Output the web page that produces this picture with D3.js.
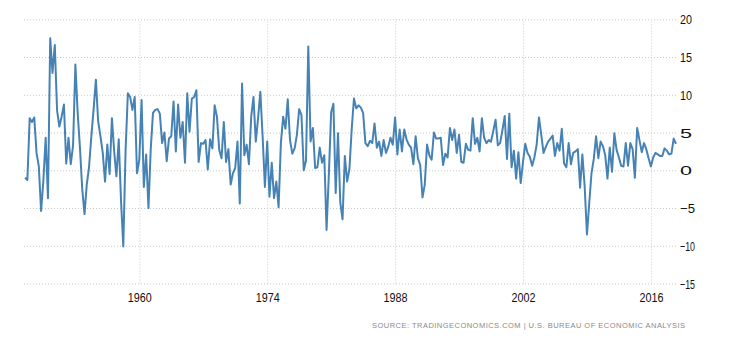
<!DOCTYPE html>
<html>
<head>
<meta charset="utf-8">
<script src="https://cdn.jsdelivr.net/npm/d3@7"></script>
<style>
  html, body { margin: 0; padding: 0; background: #fff; }
  svg { display: block; }
  text { font-family: "Liberation Sans", Arial, sans-serif; }
</style>
</head>
<body>
<svg id="chart" width="730" height="340"></svg>
<script>
// US real GDP growth, quarter on quarter, seasonally adjusted annual rate (%)
const firstYear = 1947;
const firstQuarter = 2;
const growth1940s = [
  -1.0, -1.3, 6.9,              // 1947 Q2-Q4
  6.4, 7.0, 2.3, 0.5,           // 1948
  -5.4, -1.4, 4.3, -3.7         // 1949
];
const growth1950s = [
  17.5, 12.9, 16.6, 7.9,        // 1950
  5.8, 7.1, 8.7, 0.9,           // 1951
  4.3, 0.8, 3.3, 14.0,          // 1952
  7.7, 3.1, -2.4, -5.8,         // 1953
  -1.9, 0.4, 4.5, 8.1,          // 1954
  12.0, 6.5, 4.5, 2.3,          // 1955
  -1.5, 3.4, -0.5, 6.9,         // 1956
  2.5, -0.8, 4.1, -4.1,         // 1957
  -10.1, 2.6, 10.2, 9.7,        // 1958
  8.0, 9.7, -0.4, 1.4           // 1959
];
const growth1960s = [
  9.3, -2.2, 2.1, -5.0,         // 1960
  2.7, 7.6, 8.0, 8.1,           // 1961
  7.5, 3.6, 5.0, 1.2,           // 1962
  4.2, 4.5, 9.1, 2.5,           // 1963
  8.7, 4.3, 6.4, 1.0,           // 1964
  10.2, 5.1, 9.5, 9.7,          // 1965
  10.6, 1.1, 3.6, 3.5,          // 1966
  4.0, 0.1, 4.1, 2.9,           // 1967
  8.6, 7.1, 2.7, 1.6,           // 1968
  6.4, 1.1, 2.8, -1.9           // 1969
];
const growth1970s = [
  -0.4, 0.3, 3.8, -4.4,         // 1970
  11.5, 2.0, 3.4, 0.8,          // 1971
  7.1, 9.7, 3.8, 6.9,           // 1972
  10.4, 4.5, -2.2, 3.8,         // 1973
  -3.5, 1.0, -3.7, -1.5,        // 1974
  -4.9, 3.6, 7.1, 5.5,          // 1975
  9.4, 4.0, 2.2, 2.9,           // 1976
  4.7, 8.1, 7.3, 0.0,           // 1977
  1.3, 16.4, 3.8, 5.6,          // 1978
  0.3, 0.4, 3.0, 1.0            // 1979
];
const growth1980s = [
  2.0, -7.9, -0.5, 7.7,         // 1980
  8.8, -3.0, 4.9, -4.3,         // 1981
  -6.5, 1.9, -1.5, 0.2,         // 1982
  5.4, 9.5, 8.2, 8.6,           // 1983
  8.3, 7.6, 3.6, 3.2,           // 1984
  3.9, 3.6, 6.2, 3.0,           // 1985
  3.8, 1.9, 4.0, 2.3,           // 1986
  3.1, 4.3, 3.4, 7.0,           // 1987
  2.1, 5.4, 2.5, 5.4,           // 1988
  4.1, 3.4, 3.0, 0.8            // 1989
];
const growth1990s = [
  4.5, 1.6, 0.7, -3.6,          // 1990
  -1.9, 3.4, 2.0, 1.4,          // 1991
  5.0, 4.2, 4.2, 4.3,           // 1992
  0.7, 2.2, 1.7, 5.6,           // 1993
  4.0, 5.4, 2.3, 4.7,           // 1994
  1.1, 1.0, 3.5, 2.7,           // 1995
  2.6, 6.9, 3.5, 4.3,           // 1996
  2.5, 6.9, 4.3, 3.6,           // 1997
  4.0, 3.8, 5.2, 6.7,           // 1998
  3.3, 3.6, 5.3, 7.2            // 1999
];
const growth2000s = [
  1.5, 7.5, 0.4, 2.6,           // 2000
  -1.1, 2.4, -1.7, 1.1,         // 2001
  3.5, 2.3, 1.8, 0.6,           // 2002
  1.7, 3.4, 7.0, 4.7,           // 2003
  2.3, 3.1, 3.8, 4.2,           // 2004
  4.6, 1.9, 3.6, 2.6,           // 2005
  5.5, 0.9, 0.4, 3.6,           // 2006
  0.8, 2.3, 2.5, 2.8,           // 2007
  -2.3, 2.1, -2.1, -8.5,        // 2008
  -4.4, -0.4, 1.5, 4.5          // 2009
];
const growth2010s = [
  1.6, 3.8, 3.2, 2.0,           // 2010
  -1.1, 3.0, -0.2, 4.9,         // 2011
  2.7, 1.7, 0.6, 0.5,           // 2012
  3.6, 0.6, 3.6, 2.8,           // 2013
  -1.0, 5.6, 4.0, 2.4,          // 2014
  3.6, 2.8, 1.6, 0.5,           // 2015
  1.7, 2.3, 2.1, 1.9,           // 2016
  1.9, 2.9, 2.6, 2.1,           // 2017
  2.2, 4.2, 3.5                 // 2018 Q1-Q3
];

const yTicks = [20, 15, 10, 5, 0, -5, -10, -15];
const xTickYears = [1960, 1974, 1988, 2002, 2016];
const sourceText = "SOURCE: TRADINGECONOMICS.COM  |  U.S. BUREAU OF ECONOMIC ANALYSIS";

// Assemble the quarterly series, each value dated at the end of its quarter
const allGrowth = [].concat(growth1940s, growth1950s, growth1960s, growth1970s,
                            growth1980s, growth1990s, growth2000s, growth2010s);
const series = allGrowth.map((v, i) => {
  const q = firstQuarter - 1 + i;
  const year = firstYear + Math.floor(q / 4);
  const month = (q % 4) * 3 + 3;              // month after quarter end
  return { date: new Date(year, month, 0), value: v };
});

const svg = d3.select("#chart");
const plotLeft = 22, plotRight = 676, plotTop = 19.3, plotBottom = 283.5;

const x = d3.scaleTime()
  .domain([new Date(1947, 1, 27), series[series.length - 1].date])
  .range([plotLeft, plotRight]);
const y = d3.scaleLinear().domain([-15, 20]).range([plotBottom, plotTop]);

const gridColor = "#c8c8c8";

// Horizontal dotted grid with right-side value labels
const yAxis = d3.axisRight(y)
  .tickValues(yTicks)
  .tickSize(-(plotRight - plotLeft))
  .tickPadding(4)
  .tickFormat(d3.format("d"));
const gy = svg.append("g").attr("transform", `translate(${plotRight},0)`).call(yAxis);
gy.select(".domain").remove();
gy.selectAll(".tick line")
  .attr("stroke", gridColor).attr("stroke-dasharray", "1,2");
gy.selectAll(".tick text")
  .attr("x", 4).attr("fill", "#111").attr("font-size", 13)
  .attr("dy", "0.36em")
  .attr("textLength", d => (d < 0 ? 15 : 12)).attr("lengthAdjust", "spacingAndGlyphs");

// Vertical dotted grid with year labels below
const xAxis = d3.axisBottom(x)
  .tickValues(xTickYears.map(yr => new Date(yr, 0, 1)))
  .tickSize(-(plotBottom - plotTop))
  .tickPadding(10)
  .tickFormat(d3.timeFormat("%Y"));
const gx = svg.append("g").attr("transform", `translate(0,${plotBottom})`).call(xAxis);
gx.select(".domain").remove();
gx.selectAll(".tick line")
  .attr("stroke", gridColor).attr("stroke-dasharray", "1,2");
gx.selectAll(".tick text")
  .attr("fill", "#111").attr("font-size", 12.5)
  .attr("textLength", 24).attr("lengthAdjust", "spacingAndGlyphs");

// Growth line
const line = d3.line()
  .x(d => x(d.date))
  .y(d => y(d.value));
svg.append("path")
  .datum(series)
  .attr("fill", "none")
  .attr("stroke", "#4682b4")
  .attr("stroke-width", 2)
  .attr("stroke-linejoin", "round")
  .attr("d", line);

// Source note
svg.append("text")
  .attr("x", 685).attr("y", 328)
  .attr("text-anchor", "end")
  .attr("fill", "#8a8a8a")
  .attr("font-size", 7.5)
  .attr("textLength", 313).attr("lengthAdjust", "spacing")
  .text(sourceText);
</script>
</body>
</html>
